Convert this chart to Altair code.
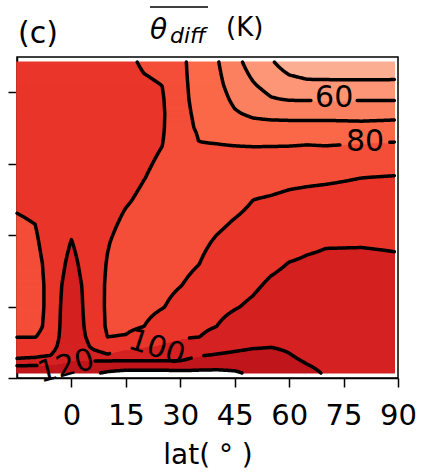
import numpy as np
import pandas as pd
import altair as alt

# ---------------- data ----------------
# grid nodes: latitude (deg) and vertical coordinate (axis units, labels hidden)
lat_nodes = [-15, -10, -6, -3, 0, 3, 6, 10, 15, 20, 25, 30, 35, 40, 45, 50, 55, 60, 65, 70, 80, 89]
z_nodes = [0.35, 0.8, 1.2, 1.6, 2.2, 2.9, 3.6, 5, 6.5, 8, 9.5, 11, 12.5, 14, 15.5, 16.5, 17.5, 18.5, 19.5, 20.5, 22.1]

# theta_diff (K) per latitude column, bottom -> top
col_m15 = [114, 111.5, 101.5, 98, 93.5, 89.7, 87.5, 86, 85.7, 86.2, 87.5, 89.3, 91.3, 93, 94, 94.5, 94.8, 95, 95, 95, 94.5]
col_m10 = [115, 111.5, 103, 98, 94, 89.7, 87.5, 86.5, 86.5, 87, 88.5, 90.3, 92, 93.5, 94.5, 95, 95.3, 95.5, 95.5, 95.3, 95]
col_m06 = [116, 112, 106, 99.5, 96, 93.5, 92.5, 92.3, 92.3, 93, 94.5, 95.3, 96, 96.3, 96.5, 96.5, 96.5, 96.5, 96.5, 96.3, 96]
col_m03 = [116, 112, 108, 104, 102, 101, 100.5, 100, 99.6, 98.6, 97.6, 97, 97, 97, 97, 97, 97, 97, 97, 97, 96.5]
col_p00 = [117, 113, 110, 108, 106.5, 105.5, 105, 104, 103, 101.8, 100.2, 98.5, 97.8, 97.5, 97.3, 97.2, 97.2, 97.2, 97.2, 97, 96.5]
col_p03 = [118, 114, 110, 106, 103, 101.5, 100.8, 100.2, 99.8, 98.8, 97.8, 97.2, 97, 97, 97, 97, 97, 97, 97, 97, 96.5]
col_p06 = [119, 114, 110, 103, 98.5, 96.5, 95.5, 95, 95, 95.3, 95.8, 96.3, 96.6, 96.8, 97, 97, 97, 97, 97, 97, 96.5]
col_p10 = [121, 116, 110, 100.6, 95.5, 89.8, 88.8, 88.5, 88.6, 89.3, 90.6, 92.5, 94, 95, 95.5, 95.8, 96, 96, 96, 95.8, 95]
col_p15 = [123, 116, 110, 103.8, 98, 90.5, 88, 86.5, 85.5, 85.2, 86, 88.5, 91, 93, 94, 94.5, 94.7, 94.8, 94.5, 94, 92.5]
col_p20 = [123, 116, 110, 105, 99.7, 94.5, 90, 87, 85.8, 85.4, 85.5, 86.5, 88.3, 90.2, 91.5, 92.3, 92.8, 93, 92.6, 91.5, 88.5]
col_p25 = [123, 116, 110, 106, 100.7, 97.7, 94.7, 89.4, 87.2, 86.2, 86, 86.2, 86.8, 87.8, 89.3, 90.3, 91.2, 91.5, 91, 89.9, 87]
col_p30 = [123, 115, 110, 106.8, 102.4, 99.2, 97.2, 93.3, 89.7, 87.5, 86.5, 85.6, 85, 84.4, 83.8, 83.4, 81.5, 81.2, 81, 81, 81]
col_p35 = [122, 117.5, 112.5, 109.4, 104.5, 99.7, 98.4, 95.7, 92.7, 89.8, 88.2, 86.4, 84.7, 83, 81.2, 80.05, 79.5, 79.2, 78.9, 78.6, 78]
col_p40 = [122, 118, 114, 110.5, 106.5, 102.5, 100, 97.8, 95.5, 93.1, 90.8, 88.4, 86.1, 83.8, 81.5, 79.8, 77.5, 75.5, 74, 72.5, 71]
col_p45 = [121, 118, 115, 111.5, 108, 105.5, 103, 99.4, 97.1, 94.8, 92.6, 90.3, 87.5, 84.6, 81.7, 79.4, 75.1, 70.9, 68.2, 66, 63]
col_p50 = [118.5, 117, 115, 112.5, 109.2, 107.5, 105.5, 101.3, 98.7, 96.5, 94.3, 92.1, 89.9, 86, 82.1, 79, 73.3, 68.5, 64.6, 60.8, 56]
col_p55 = [116, 115, 113.5, 112, 109.8, 108, 106.7, 104, 101.2, 98.4, 95.9, 93.3, 90.7, 86.8, 82.4, 78.9, 73.3, 67.3, 60.7, 56.5, 51]
col_p60 = [113.5, 112.5, 111.2, 110.3, 109, 107.5, 106.3, 104.5, 102.5, 100.2, 97.4, 94.5, 91.7, 87.9, 82.8, 78.9, 73.3, 66.9, 59.4, 53.5, 45.5]
col_p65 = [111.5, 110.4, 109.4, 108.4, 107.5, 106.5, 105.6, 104, 102.6, 100.9, 98.7, 95.5, 92.3, 88.4, 82.9, 79.3, 73.3, 66.9, 59.3, 52.1, 43.5]
col_p70 = [109.5, 108.8, 108.2, 107.6, 106.8, 106, 105.2, 104, 102.8, 101.2, 99.5, 96.1, 92.7, 88.8, 83.1, 78.9, 73.3, 66.9, 59.3, 52.1, 43]
col_p80 = [108, 107.5, 107, 106.5, 106, 105.5, 105, 104, 103, 101.5, 99.5, 96.4, 93.2, 90, 84, 79.5, 73, 66.5, 59.3, 52, 43]
col_p89 = [108, 107, 107, 106, 106, 105, 104.5, 103.5, 102.5, 101, 99.2, 96.3, 93.5, 90.6, 84.5, 80, 73.7, 66.9, 59.3, 52.1, 43]

columns = [col_m15, col_m10, col_m06, col_m03, col_p00, col_p03, col_p06, col_p10, col_p15, col_p20,
           col_p25, col_p30, col_p35, col_p40, col_p45, col_p50, col_p55, col_p60, col_p65, col_p70,
           col_p80, col_p89]

fill_levels = [40, 50, 60, 70, 80, 90, 100, 110, 120]
line_levels = [50, 60, 70, 80, 90, 100, 110, 120]
x_ticks = [0, 15, 30, 45, 60, 75, 90]
y_ticks = [0, 5, 10, 15, 20]

label_text = ["60", "80", "100", "120"]
label_lat = [72.4, 80.9, 23.5, -1.5]
label_z = [19.6, 16.5, 2.1, 0.8]

# ---------------- styling / layout ----------------
band_colors = ["#fcae92", "#fc9677", "#fb8060", "#fb6949", "#f44e38", "#e9352a", "#d52121", "#c0151b"]
label_angle = [0, 0, 18, 345]
label_gap_hw = [6.3, 6.8, 13.0, 8.0]   # half-width of inline label gap (deg)
label_gap_hh = [0.85, 0.85, 0.7, 0.5]  # half-height of inline label gap (axis units)

# ---------------- contourf-like rendering of the grid ----------------
G = np.array(columns, dtype=float).T          # (nz, nlat)
zf = np.linspace(z_nodes[0], z_nodes[-1], 311)
lf = np.linspace(lat_nodes[0], lat_nodes[-1], 417)
Gz = np.array([np.interp(zf, z_nodes, G[:, k]) for k in range(len(lat_nodes))]).T
F = np.array([np.interp(lf, lat_nodes, Gz[j]) for j in range(len(zf))])

band = np.digitize(F, fill_levels)  # 0: <40, 1..8: bands, 9: >=120 (unfilled)
dz = zf[1] - zf[0]
dl = lf[1] - lf[0]
recs = []
for j in range(len(zf)):
    row = band[j]
    z0 = max(zf[0], zf[j] - dz / 2)
    z1 = min(zf[-1], zf[j] + dz / 2)
    i0 = 0
    n = len(lf)
    while i0 < n:
        b = row[i0]
        i1 = i0
        while i1 + 1 < n and row[i1 + 1] == b:
            i1 += 1
        if 1 <= b <= 8:
            x0 = max(lf[0], lf[i0] - dl / 2)
            x1 = min(lf[-1], lf[i1] + dl / 2)
            recs.append((x0, x1, z0, z1, band_colors[b - 1]))
        i0 = i1 + 1
fill_df = pd.DataFrame(recs, columns=["lat", "lat2", "z", "z2", "c"])

# ---------------- contour lines (marching squares) ----------------
def contour_chains(level):
    B = F >= level
    s = B[:-1, :-1].astype(int) + B[:-1, 1:] + B[1:, :-1] + B[1:, 1:]
    cells = np.argwhere((s > 0) & (s < 4))
    segs = []
    for j, i in cells:
        bl, br, tl, tr = B[j, i], B[j, i + 1], B[j + 1, i], B[j + 1, i + 1]
        bottom, top = ("h", j, i), ("h", j + 1, i)
        left, right = ("v", j, i), ("v", j, i + 1)
        cr = []
        if bl != br: cr.append(bottom)
        if tl != tr: cr.append(top)
        if bl != tl: cr.append(left)
        if br != tr: cr.append(right)
        if len(cr) == 2:
            segs.append((cr[0], cr[1]))
        elif len(cr) == 4:
            center = (F[j, i] + F[j, i + 1] + F[j + 1, i] + F[j + 1, i + 1]) / 4 >= level
            if center == bl:
                segs.append((bottom, right)); segs.append((top, left))
            else:
                segs.append((bottom, left)); segs.append((top, right))
    adj = {}
    for k, (a, b) in enumerate(segs):
        adj.setdefault(a, []).append(k)
        adj.setdefault(b, []).append(k)
    used = [False] * len(segs)
    chains = []
    for k in range(len(segs)):
        if used[k]:
            continue
        used[k] = True
        path = [segs[k][0], segs[k][1]]
        for _ in range(2):
            cur = path[-1]
            while True:
                nxt = None
                for m in adj[cur]:
                    if not used[m]:
                        nxt = m
                        break
                if nxt is None:
                    break
                used[nxt] = True
                p, q = segs[nxt]
                cur = q if p == cur else p
                path.append(cur)
            path.reverse()
        pts = []
        for kind, j, i in path:
            if kind == "h":
                a, b = F[j, i], F[j, i + 1]
                t = (level - a) / (b - a)
                pts.append((lf[i] + t * (lf[i + 1] - lf[i]), zf[j]))
            else:
                a, b = F[j, i], F[j + 1, i]
                t = (level - a) / (b - a)
                pts.append((lf[i], zf[j] + t * (zf[j + 1] - zf[j])))
        chains.append(pts)
    return chains

def in_gap(x, z):
    for lc, zc, hw, hh in zip(label_lat, label_z, label_gap_hw, label_gap_hh):
        if abs(x - lc) < hw and abs(z - zc) < hh:
            return True
    return False

line_rows = []
lid = 0
for lev in line_levels:
    for pts in contour_chains(lev):
        piece = []
        for (x, z) in pts:
            if in_gap(x, z):
                if len(piece) >= 2:
                    for o, (px, pz) in enumerate(piece):
                        line_rows.append((px, pz, lid, o))
                    lid += 1
                piece = []
            else:
                piece.append((x, z))
        if len(piece) >= 2:
            for o, (px, pz) in enumerate(piece):
                line_rows.append((px, pz, lid, o))
            lid += 1
line_df = pd.DataFrame(line_rows, columns=["lat", "z", "lid", "o"])

lab_df = pd.DataFrame({"lat": label_lat, "z": label_z, "t": label_text, "a": label_angle})

# ---------------- chart ----------------
FONT = "DejaVu Sans"
xs = alt.Scale(domain=[-15, 90], nice=False, zero=False)
ys = alt.Scale(domain=[0, 22.45], nice=False, zero=False)
xaxis = alt.Axis(values=x_ticks, title="lat( ° )", labelFont=FONT, titleFont=FONT,
                 labelFontSize=29, titleFontSize=28, labelColor="black", titleColor="black",
                 titleFontWeight="normal", tickSize=9, tickWidth=1.5, tickColor="black",
                 domainColor="black", domainWidth=1.5, grid=False, labelPadding=14,
                 labelFlush=False, titleY=85, titleBaseline="alphabetic")
yaxis = alt.Axis(values=y_ticks, labels=False, title=None, tickSize=9, tickWidth=1.5,
                 tickColor="black", domainColor="black", domainWidth=1.5, grid=False)

fill = alt.Chart(fill_df).mark_rect(strokeWidth=1.1).encode(
    x=alt.X("lat:Q", scale=xs, axis=xaxis), x2="lat2:Q",
    y=alt.Y("z:Q", scale=ys, axis=yaxis), y2="z2:Q",
    color=alt.Color("c:N", scale=None),
    stroke=alt.Stroke("c:N", scale=None))

lines = alt.Chart(line_df).mark_line(color="black", strokeWidth=3.5, strokeCap="round",
                                     strokeJoin="round").encode(
    x=alt.X("lat:Q", scale=xs, axis=xaxis),
    y=alt.Y("z:Q", scale=ys, axis=yaxis),
    detail="lid:N", order="o:Q")

labels = alt.Chart(lab_df).mark_text(font=FONT, fontSize=30, color="black",
                                     baseline="middle", align="center").encode(
    x=alt.X("lat:Q", scale=xs, axis=xaxis),
    y=alt.Y("z:Q", scale=ys, axis=yaxis),
    text="t:N", angle=alt.Angle("a:Q", scale=None))

def txt(s, x, y, size, style="normal"):
    return alt.Chart(pd.DataFrame({"t": [s]})).mark_text(
        font=FONT, fontSize=size, fontStyle=style, color="black",
        align="left", baseline="alphabetic").encode(
        text="t:N", x=alt.value(x), y=alt.value(y))

t_panel = txt("(c)", 1, -14, 30)
t_theta = txt("θ", 133, -18, 28, "italic")
t_sub = txt("diff", 153, -14, 22, "italic")
t_unit = txt("(K)", 209, -21, 26)
overline = alt.Chart(pd.DataFrame({"t": [0]})).mark_rule(color="black", strokeWidth=1.5).encode(
    x=alt.value(133), x2=alt.value(191), y=alt.value(-50))

chart = alt.layer(fill, lines, labels, t_panel, t_theta, t_sub, t_unit, overline).properties(
    width=381, height=321,
    padding={"left": 17, "top": 57, "right": 25, "bottom": 96},
    autosize=alt.AutoSizeParams(type="none"),
).configure_view(stroke="black", strokeWidth=1.5)

chart.save("out.html", embed_options={"renderer": "svg", "actions": False})
